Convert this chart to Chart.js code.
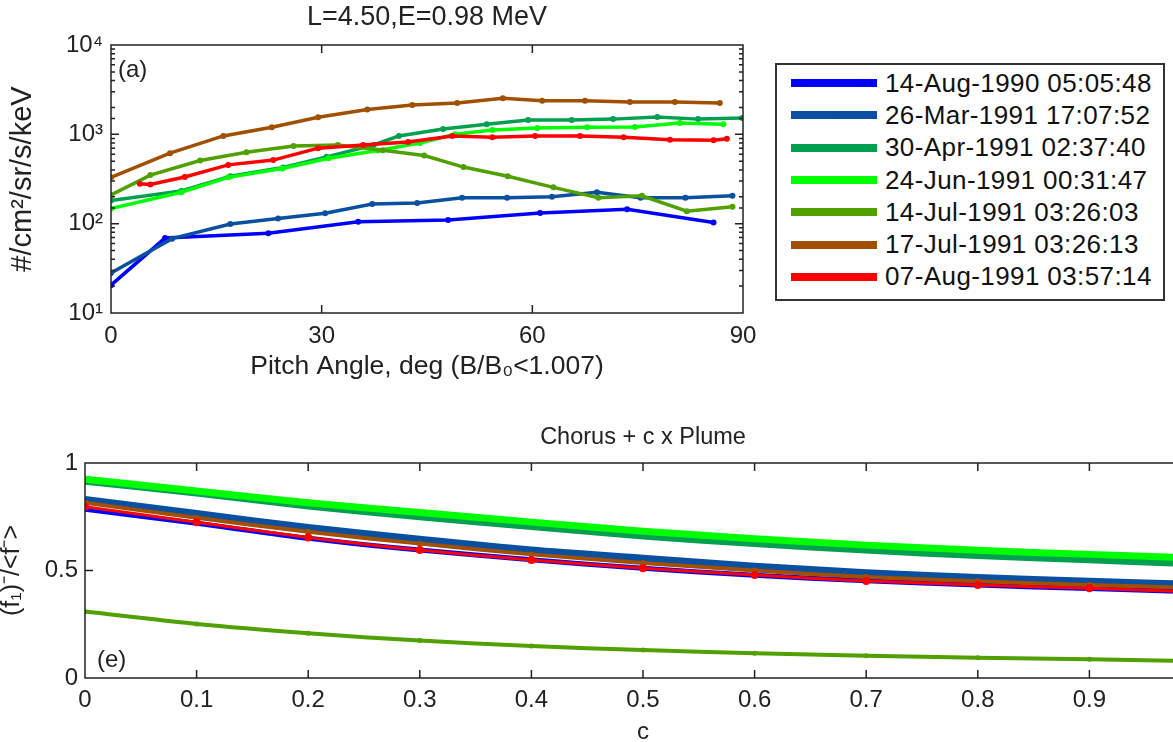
<!DOCTYPE html>
<html>
<head>
<meta charset="utf-8">
<script src="https://cdn.jsdelivr.net/npm/chart.js@4.4.1/dist/chart.umd.min.js"></script>
<style>
  html, body { margin: 0; padding: 0; background: #fff; }
  body { width: 1173px; height: 742px; overflow: hidden; position: relative; font-family: "Liberation Sans", Arial, sans-serif; }
  #top-chart { position: absolute; left: 0; top: 0; }
  #bottom-chart { position: absolute; left: 0; top: 420px; }
  #legend { position: absolute; left: 775px; top: 63px; width: 386px; height: 232px; border: 2px solid #333; padding-top: 2px; box-sizing: content-box; }
  #legend .row { display: flex; align-items: center; height: 32.3px; }
  #legend svg { margin-left: 14px; margin-right: 8px; }
  #legend span { font-size: 26px; letter-spacing: 0.4px; color: #111; white-space: nowrap; }
</style>
</head>
<body>
<canvas id="top-chart" width="770" height="400"></canvas>
<canvas id="bottom-chart" width="1260" height="330"></canvas>
<div id="legend"></div>
<script>
// series names and colours (same for both panels)
const seriesNames = [
  '14-Aug-1990 05:05:48',
  '26-Mar-1991 17:07:52',
  '30-Apr-1991 02:37:40',
  '24-Jun-1991 00:31:47',
  '14-Jul-1991 03:26:03',
  '17-Jul-1991 03:26:13',
  '07-Aug-1991 03:57:14'
];
const seriesColors = ['#0000ff', '#0a50a0', '#00a050', '#00ff00', '#50a000', '#a05000', '#ff0000'];

// panel (a): pitch angle (deg) and flux (#/cm2/sr/s/keV)
const aug90Angle = [0, 7.7, 22.4, 35.2, 48, 61.1, 73.5, 85.8];
const aug90Flux = [20.5, 69, 78, 105, 110, 132, 145, 103];
const mar91Angle = [0, 8.7, 17, 23.8, 30.5, 37.2, 43.6, 50, 56.4, 62.8, 69.2, 75.4, 81.8, 88.5];
const mar91Flux = [28, 68, 99, 114, 131, 166, 170, 195, 195, 200, 225, 195, 195, 205];
const apr91Angle = [0, 10, 17, 24.5, 30.7, 37.4, 41, 47.3, 53.5, 59.4, 65.6, 71.5, 77.8, 83.6, 89.9];
const apr91Flux = [182, 232, 340, 425, 560, 760, 960, 1150, 1300, 1450, 1450, 1480, 1560, 1480, 1520];
const jun91Angle = [0, 10, 16.7, 24.4, 31, 38, 44, 49, 54.3, 60.7, 67.8, 74.6, 81, 87.2];
const jun91Flux = [148, 225, 330, 415, 540, 660, 800, 1000, 1120, 1180, 1200, 1210, 1340, 1300];
const jul14Angle = [0, 5.6, 12.7, 19.3, 26, 32.3, 38.7, 44.6, 50.2, 56.5, 63, 69.4, 75.6, 82, 88.5];
const jul14Flux = [210, 350, 510, 630, 740, 760, 665, 580, 430, 340, 255, 195, 205, 138, 155];
const jul17Angle = [0, 8.4, 16, 22.9, 29.5, 36.5, 42.9, 49.3, 55.8, 61.4, 67.5, 73.9, 80.3, 86.7];
const jul17Flux = [330, 615, 960, 1200, 1550, 1900, 2130, 2240, 2530, 2380, 2380, 2300, 2300, 2240];
const aug91Angle = [4.1, 5.6, 10.5, 16.7, 23.1, 29.5, 35.9, 42.3, 48.6, 54.3, 60.4, 66.8, 73, 79.6, 85.8, 87.7];
const aug91Flux = [280, 275, 333, 455, 515, 700, 760, 820, 960, 930, 960, 960, 930, 870, 860, 890];

// panel (e): ratio against c
const cValues = [0, 0.1, 0.2, 0.3, 0.4, 0.5, 0.6, 0.7, 0.8, 0.9, 1.0];
const aug90Ratio = [0.785, 0.72, 0.65, 0.595, 0.55, 0.51, 0.478, 0.452, 0.432, 0.416, 0.40];
const mar91Ratio = [0.83, 0.765, 0.70, 0.645, 0.595, 0.557, 0.52, 0.49, 0.467, 0.45, 0.435];
const apr91Ratio = [0.915, 0.86, 0.80, 0.75, 0.705, 0.66, 0.625, 0.595, 0.57, 0.55, 0.53];
const jun91Ratio = [0.925, 0.87, 0.815, 0.77, 0.725, 0.683, 0.648, 0.618, 0.594, 0.575, 0.557];
const jul14Ratio = [0.309, 0.251, 0.208, 0.174, 0.149, 0.13, 0.115, 0.104, 0.094, 0.087, 0.078];
const jul17Ratio = [0.815, 0.745, 0.68, 0.625, 0.575, 0.535, 0.50, 0.47, 0.45, 0.433, 0.418];
const aug91Ratio = [0.797, 0.724, 0.654, 0.595, 0.549, 0.51, 0.479, 0.451, 0.433, 0.417, 0.40];

const topAngles = [aug90Angle, mar91Angle, apr91Angle, jun91Angle, jul14Angle, jul17Angle, aug91Angle];
const topFluxes = [aug90Flux, mar91Flux, apr91Flux, jun91Flux, jul14Flux, jul17Flux, aug91Flux];
const bottomRatios = [aug90Ratio, mar91Ratio, apr91Ratio, jun91Ratio, jul14Ratio, jul17Ratio, aug91Ratio];
const bottomWidths = [5, 7, 7, 7, 4, 4, 3];
const bottomPoints = [2.5, 2, 2, 2, 2.5, 3, 4];

const FONT = "'Liberation Sans', Arial, sans-serif";
const sup = ['\u2070', '\u00b9', '\u00b2', '\u00b3', '\u2074'];

// box around the axes with MATLAB style inward ticks, plus the panel letter
const matlabFrame = {
  id: 'matlabFrame',
  afterDraw(chart, args, opts) {
    const { ctx, chartArea: a, scales: { x, y } } = chart;
    ctx.save();
    ctx.strokeStyle = '#222';
    ctx.lineWidth = 1.5;
    ctx.strokeRect(a.left, a.top, a.right - a.left, a.bottom - a.top);
    ctx.beginPath();
    x.ticks.forEach(t => {
      const px = x.getPixelForValue(t.value);
      if (px <= a.left + 1 || px >= a.right - 1) return;
      ctx.moveTo(px, a.bottom); ctx.lineTo(px, a.bottom - 8);
      ctx.moveTo(px, a.top); ctx.lineTo(px, a.top + 8);
    });
    y.ticks.forEach(t => {
      const py = y.getPixelForValue(t.value);
      if (py <= a.top + 1 || py >= a.bottom - 1) return;
      let len = 8;
      if (opts.log) {
        const l = Math.log10(t.value);
        len = Math.abs(l - Math.round(l)) < 1e-9 ? 8 : 4;
      }
      ctx.moveTo(a.left, py); ctx.lineTo(a.left + len, py);
      ctx.moveTo(a.right, py); ctx.lineTo(a.right - len, py);
    });
    ctx.stroke();
    ctx.fillStyle = '#222';
    ctx.font = '24px ' + FONT;
    ctx.textBaseline = 'middle';
    ctx.fillText(opts.label, a.left + opts.dx, opts.fromBottom ? a.bottom - opts.dy : a.top + opts.dy);
    ctx.restore();
  }
};

// panel (a)
new Chart(document.getElementById('top-chart'), {
  type: 'line',
  data: {
    datasets: seriesNames.map((name, i) => ({
      label: name,
      data: topAngles[i].map((a, k) => ({ x: a, y: topFluxes[i][k] })),
      borderColor: seriesColors[i],
      backgroundColor: seriesColors[i],
      borderWidth: 3.5,
      pointRadius: 3,
      pointBorderWidth: 0,
      tension: 0,
      order: seriesNames.length - i
    }))
  },
  options: {
    responsive: false,
    animation: false,
    layout: { padding: { left: 0, top: 0, right: 27, bottom: 0 } },
    plugins: {
      legend: { display: false },
      tooltip: { enabled: false },
      title: {
        display: true,
        text: 'L=4.50,E=0.98 MeV',
        fullSize: false,
        color: '#222',
        font: { family: FONT, size: 27, weight: 'normal' },
        padding: { top: 1, bottom: 11.6 }
      },
      matlabFrame: { log: true, label: '(a)', dx: 7, dy: 25 }
    },
    scales: {
      x: {
        type: 'linear',
        min: 0, max: 90,
        grid: { display: false, drawTicks: false },
        border: { display: false },
        ticks: { stepSize: 30, color: '#222', padding: 9, font: { family: FONT, size: 24 } },
        title: {
          display: true,
          text: 'Pitch Angle, deg (B/B\u2080<1.007)',
          color: '#222',
          font: { family: FONT, size: 26.5 },
          padding: { top: 0, bottom: 17 }
        },
        afterFit: s => { s.height = 87; }
      },
      y: {
        type: 'logarithmic',
        min: 10, max: 10000,
        grid: { display: false, drawTicks: false },
        border: { display: false },
        ticks: {
          autoSkip: false,
          color: '#222',
          padding: 8,
          font: { family: FONT, size: 24 },
          callback: v => {
            const l = Math.log10(v);
            return Math.abs(l - Math.round(l)) < 1e-9 ? '10' + sup[Math.round(l)] : '';
          }
        },
        title: {
          display: true,
          text: '#/cm\u00b2/sr/s/keV',
          color: '#222',
          font: { family: FONT, size: 29 },
          padding: { top: 6, bottom: 0 }
        },
        afterFit: s => { s.width = 111; }
      }
    }
  },
  plugins: [matlabFrame]
});

// panel (e)
new Chart(document.getElementById('bottom-chart'), {
  type: 'line',
  data: {
    labels: cValues,
    datasets: seriesNames.map((name, i) => ({
      label: name,
      data: cValues.map((c, k) => ({ x: c, y: bottomRatios[i][k] })),
      borderColor: seriesColors[i],
      backgroundColor: seriesColors[i],
      borderWidth: bottomWidths[i],
      pointRadius: bottomPoints[i],
      pointBorderWidth: 0,
      tension: 0.3,
      order: seriesNames.length - i
    }))
  },
  options: {
    responsive: false,
    animation: false,
    layout: { padding: { left: 0, top: 0, right: 59, bottom: 0 } },
    plugins: {
      legend: { display: false },
      tooltip: { enabled: false },
      title: {
        display: true,
        text: 'Chorus + c x Plume',
        fullSize: false,
        color: '#222',
        font: { family: FONT, size: 23.5, weight: 'normal' },
        padding: { top: 3, bottom: 11.8 }
      },
      matlabFrame: { log: false, label: '(e)', dx: 12, dy: 18, fromBottom: true }
    },
    scales: {
      x: {
        type: 'linear',
        min: 0, max: 1,
        grid: { display: false, drawTicks: false },
        border: { display: false },
        ticks: {
          stepSize: 0.1,
          autoSkip: false,
          color: '#222',
          padding: 7.6,
          font: { family: FONT, size: 24 },
          callback: v => String(Number(v.toFixed(1)))
        },
        title: {
          display: true,
          text: 'c',
          color: '#222',
          font: { family: FONT, size: 24 },
          padding: { top: 0, bottom: 3.6 }
        },
        afterFit: s => { s.height = 72; }
      },
      y: {
        type: 'linear',
        min: 0, max: 1,
        grid: { display: false, drawTicks: false },
        border: { display: false },
        ticks: {
          stepSize: 0.5,
          color: '#222',
          padding: 7,
          font: { family: FONT, size: 24 },
          callback: v => String(Number(v.toFixed(1)))
        },
        title: {
          display: true,
          text: '(f\u2081)\u207b/<f\u207b>',
          color: '#222',
          font: { family: FONT, size: 25, lineHeight: 1 },
          padding: { top: 0, bottom: 0 }
        },
        afterFit: s => { s.width = 85; }
      }
    }
  },
  plugins: [matlabFrame]
});

// legend box to the right of panel (a)
const legend = document.getElementById('legend');
seriesNames.forEach((name, i) => {
  const row = document.createElement('div');
  row.className = 'row';
  row.innerHTML =
    '<svg width="86" height="10"><line x1="0" y1="5" x2="86" y2="5" stroke="' + seriesColors[i] +
    '" stroke-width="8"/><circle cx="43" cy="5" r="2.5" fill="' + seriesColors[i] + '"/></svg>' +
    '<span>' + name + '</span>';
  legend.appendChild(row);
});
</script>
</body>
</html>
